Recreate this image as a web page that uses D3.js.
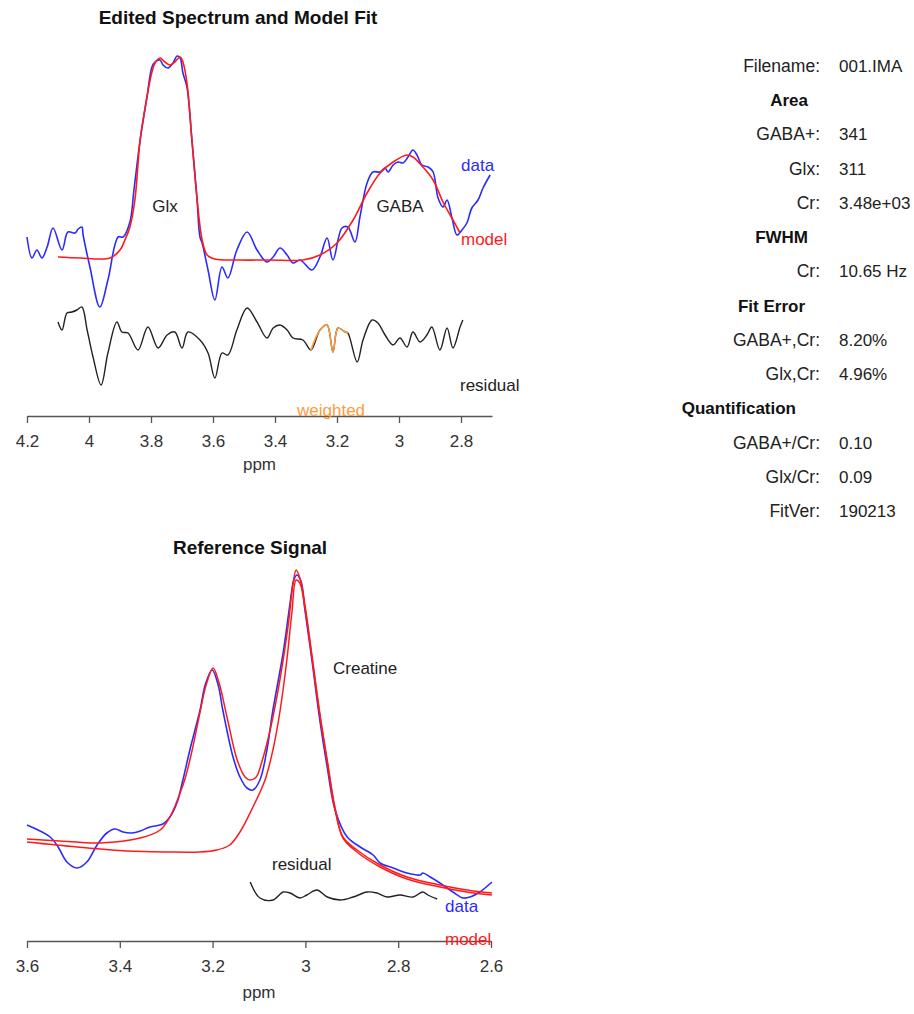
<!DOCTYPE html>
<html>
<head>
<meta charset="utf-8">
<script src="https://cdn.jsdelivr.net/npm/d3@7"></script>
<style>
    body { margin: 0; background: #fff; }
    svg { display: block; font-family: "Liberation Sans", Arial, sans-serif; }
    .axis path, .axis line { stroke: #555; stroke-width: 1.3; }
    .axis text { fill: #333; font-size: 17px; font-family: "Liberation Sans", Arial, sans-serif; }
</style>
</head>
<body>
<svg id="chart" width="914" height="1014"></svg>
<script>
// Donnees : spectre edite (ppm, amplitude)
const editedTicks = [4.2, 4, 3.8, 3.6, 3.4, 3.2, 3, 2.8];

const editedData = [
    [4.200, 2.1], [4.184, 0.0], [4.168, 0.8], [4.152, 0.0], [4.135, 1.1], [4.116, 3.0],
    [4.087, 0.8], [4.068, 2.6], [4.045, 2.5], [4.035, 2.9], [4.023, 3.1], [4.019, 2.3],
    [3.997, -0.9], [3.965, -4.9], [3.939, -2.2], [3.906, 2.1], [3.890, 2.1], [3.868, 3.6],
    [3.855, 6.8], [3.835, 11.8], [3.813, 16.1], [3.797, 19.1], [3.787, 19.6], [3.771, 19.8],
    [3.761, 19.3], [3.745, 19.0], [3.729, 19.5], [3.716, 20.2], [3.706, 20.0], [3.697, 18.5],
    [3.684, 17.1], [3.668, 11.8], [3.652, 6.1], [3.642, 2.1], [3.635, 1.5], [3.616, -1.2],
    [3.594, -4.2], [3.571, -0.9], [3.552, -2.0], [3.523, 0.8], [3.490, 2.6], [3.458, 0.8],
    [3.426, -0.4], [3.406, 0.1], [3.384, 1.0], [3.361, 0.3], [3.342, -0.5], [3.319, -0.2],
    [3.281, -1.2], [3.255, 0.1], [3.232, 2.0], [3.213, -0.2], [3.184, 3.0], [3.165, 3.1],
    [3.142, 1.6], [3.126, 4.1], [3.103, 7.5], [3.084, 8.6], [3.061, 8.6], [3.045, 9.0],
    [3.035, 8.6], [3.019, 9.3], [3.003, 9.6], [2.987, 9.5], [2.971, 10.1], [2.955, 10.8],
    [2.942, 10.3], [2.926, 9.3], [2.906, 9.1], [2.890, 8.6], [2.874, 6.0], [2.858, 5.1],
    [2.845, 5.8], [2.829, 4.0], [2.813, 2.3], [2.797, 2.8], [2.781, 3.5], [2.765, 5.0],
    [2.745, 5.8], [2.729, 7.0], [2.706, 8.3]
];

const editedModel = [
    [4.100, 0.1], [4.029, 0.0], [3.932, 0.0], [3.900, 0.8], [3.884, 1.8], [3.868, 3.1],
    [3.852, 5.8], [3.835, 11.8], [3.813, 16.1], [3.797, 18.6], [3.787, 19.5], [3.771, 20.0],
    [3.755, 19.6], [3.739, 19.3], [3.723, 19.6], [3.706, 20.1], [3.697, 19.6], [3.684, 17.5],
    [3.668, 11.8], [3.652, 6.1], [3.635, 1.8], [3.619, 0.3], [3.594, -0.1], [3.513, -0.2],
    [3.416, -0.2], [3.310, -0.2], [3.255, 0.3], [3.200, 1.5], [3.148, 3.8], [3.103, 6.5],
    [3.061, 8.5], [3.019, 9.6], [2.974, 10.3], [2.955, 10.1], [2.923, 9.1], [2.890, 7.8],
    [2.858, 5.6], [2.826, 3.8], [2.803, 2.5]
];

const editedResidual = [
    [4.100, -6.4], [4.087, -7.2], [4.071, -5.5], [4.055, -5.4], [4.039, -5.2], [4.023, -4.9],
    [4.006, -7.2], [3.987, -9.9], [3.961, -12.7], [3.939, -9.5], [3.910, -6.4], [3.894, -7.4],
    [3.874, -7.5], [3.842, -9.2], [3.810, -6.9], [3.777, -9.0], [3.748, -7.7], [3.723, -7.4],
    [3.700, -9.0], [3.681, -7.4], [3.642, -8.2], [3.616, -9.5], [3.594, -12.0], [3.571, -9.5],
    [3.552, -9.7], [3.523, -7.2], [3.490, -5.0], [3.458, -6.4], [3.426, -8.0], [3.406, -7.0],
    [3.384, -6.7], [3.361, -7.2], [3.342, -8.0], [3.310, -8.2], [3.284, -9.2], [3.255, -7.2],
    [3.232, -6.7], [3.213, -9.4], [3.197, -7.0], [3.174, -7.4], [3.165, -7.5], [3.135, -10.4],
    [3.116, -8.2], [3.087, -6.2], [3.068, -6.5], [3.045, -7.7], [3.019, -8.7], [2.997, -8.0],
    [2.974, -8.9], [2.955, -7.4], [2.932, -8.4], [2.910, -7.7], [2.894, -6.9], [2.868, -9.2],
    [2.845, -7.0], [2.826, -9.0], [2.803, -6.9], [2.794, -6.2]
];

// plage ponderee du residu
const weightedRange = [3.285, 3.16];

// Donnees : signal de reference
const refTicks = [3.6, 3.4, 3.2, 3, 2.8, 2.6];

const refData = [
    [3.600, 3.0], [3.550, 1.8], [3.533, 0.8], [3.514, -0.7], [3.492, -1.3], [3.471, -0.7],
    [3.449, 1.0], [3.428, 2.2], [3.410, 2.6], [3.393, 2.3], [3.374, 2.2], [3.356, 2.4],
    [3.335, 2.8], [3.307, 3.1], [3.292, 3.8], [3.277, 5.2], [3.264, 7.5], [3.249, 10.5],
    [3.227, 14.5], [3.216, 17.0], [3.201, 18.5], [3.188, 17.0], [3.178, 14.5], [3.156, 9.8],
    [3.141, 7.8], [3.126, 6.7], [3.113, 6.5], [3.098, 7.5], [3.083, 10.5], [3.070, 14.5],
    [3.048, 20.2], [3.033, 25.2], [3.025, 27.5], [3.018, 28.0], [3.009, 27.3], [3.001, 24.5],
    [2.986, 19.5], [2.969, 13.5], [2.953, 8.8], [2.936, 4.5], [2.910, 1.8], [2.882, 0.8],
    [2.854, 0.0], [2.839, -0.8], [2.811, -1.3], [2.781, -1.8], [2.753, -2.0], [2.747, -1.8],
    [2.731, -2.2], [2.710, -2.8], [2.682, -3.7], [2.660, -4.3], [2.645, -4.2], [2.624, -3.7],
    [2.598, -2.7]
];

const refModel = [
    [3.600, 1.6], [3.529, 1.4], [3.443, 1.2], [3.356, 1.7], [3.313, 2.5], [3.292, 3.8],
    [3.270, 6.2], [3.259, 7.7], [3.244, 10.5], [3.227, 14.3], [3.214, 17.0], [3.199, 18.7],
    [3.186, 17.2], [3.169, 13.8], [3.147, 9.5], [3.130, 7.8], [3.119, 7.5], [3.106, 7.8],
    [3.094, 9.3], [3.076, 12.5], [3.055, 17.5], [3.037, 23.0], [3.027, 27.0], [3.020, 28.5],
    [3.012, 27.7], [3.001, 25.0], [2.986, 20.0], [2.969, 14.2], [2.953, 9.5], [2.936, 4.7],
    [2.919, 1.8], [2.889, 0.5], [2.839, -1.0], [2.781, -2.2], [2.710, -3.0], [2.652, -3.5],
    [2.598, -3.8]
];

const refCreatineModel = [
    [3.600, 1.3], [3.492, 0.8], [3.384, 0.4], [3.298, 0.3], [3.227, 0.3], [3.191, 0.5],
    [3.163, 1.0], [3.141, 2.3], [3.113, 4.8], [3.087, 7.5], [3.070, 10.5], [3.055, 14.3],
    [3.040, 19.5], [3.029, 24.3], [3.020, 27.5], [3.012, 27.2], [3.001, 24.7], [2.986, 19.8],
    [2.969, 14.0], [2.953, 9.3], [2.936, 4.5], [2.919, 1.7], [2.889, 0.3], [2.839, -1.2],
    [2.781, -2.4], [2.710, -3.2], [2.652, -3.7], [2.598, -4.0]
];

const refResidual = [
    [3.119, -2.7], [3.098, -4.3], [3.070, -4.5], [3.048, -3.7], [3.033, -3.8], [3.012, -4.3],
    [2.997, -4.0], [2.975, -3.5], [2.953, -4.2], [2.925, -4.5], [2.897, -4.2], [2.867, -3.7],
    [2.846, -3.8], [2.824, -4.2], [2.796, -4.0], [2.768, -4.2], [2.747, -3.7], [2.736, -4.0],
    [2.716, -4.4]
];

// Tableau des resultats
const infoLabels = ["Filename:", "Area", "GABA+:", "Glx:", "Cr:", "FWHM", "Cr:", "Fit Error",
    "GABA+,Cr:", "Glx,Cr:", "Quantification", "GABA+/Cr:", "Glx/Cr:", "FitVer:"];
const infoValues = ["001.IMA", "", "341", "311", "3.48e+03", "", "10.65 Hz", "",
    "8.20%", "4.96%", "", "0.10", "0.09", "190213"];
const infoHeadings = ["Area", "FWHM", "Fit Error", "Quantification"];

const svg = d3.select("#chart");

const colors = {
    data: "#2b2bff",
    model: "#ff1a1a",
    residual: "#222",
    weighted: "#ff9a40",
    text: "#222"
};

// Echelles
const editedX = d3.scaleLinear().domain([4.2, 2.7]).range([27, 492]);
const editedY = d3.scaleLinear().domain([-15.8, 20.2]).range([416, 56]);
const refX = d3.scaleLinear().domain([3.6, 2.6]).range([27, 491]);
const refY = d3.scaleLinear().domain([-8.6, 28.5]).range([941, 570]);

function makeLine(xScale, yScale) {
    return d3.line()
        .x(function(d) { return xScale(d[0]); })
        .y(function(d) { return yScale(d[1]); })
        .curve(d3.curveCatmullRom.alpha(0.5));
}

function drawSeries(points, xScale, yScale, color, width) {
    svg.append("path")
        .datum(points)
        .attr("fill", "none")
        .attr("stroke", color)
        .attr("stroke-width", width)
        .attr("stroke-linejoin", "round")
        .attr("d", makeLine(xScale, yScale));
}

function addLabel(x, y, text, color, options) {
    const opts = options || {};
    svg.append("text")
        .attr("x", x)
        .attr("y", y)
        .attr("text-anchor", opts.anchor || "start")
        .attr("font-size", opts.size || 17)
        .attr("font-weight", opts.bold ? "bold" : "normal")
        .attr("fill", color)
        .text(text);
}

function drawAxis(xScale, ticks, yPos, labelY) {
    svg.append("g")
        .attr("class", "axis")
        .attr("transform", "translate(0," + yPos + ")")
        .call(d3.axisBottom(xScale)
            .tickValues(ticks)
            .tickSize(7)
            .tickSizeOuter(0)
            .tickPadding(12)
            .tickFormat(d3.format("")));

    const range = xScale.range();
    addLabel((range[0] + range[1]) / 2, labelY, "ppm", "#333", { anchor: "middle" });
}

// Spectre edite
function drawEditedPanel() {
    addLabel(238, 24, "Edited Spectrum and Model Fit", "#111", { anchor: "middle", bold: true, size: 19 });

    drawAxis(editedX, editedTicks, 416, 470);

    drawSeries(editedResidual, editedX, editedY, colors.residual, 1.4);
    const weighted = editedResidual.filter(function(d) {
        return d[0] <= weightedRange[0] && d[0] >= weightedRange[1];
    });
    drawSeries(weighted, editedX, editedY, colors.weighted, 1.6);

    drawSeries(editedData, editedX, editedY, colors.data, 1.6);
    drawSeries(editedModel, editedX, editedY, colors.model, 1.6);

    addLabel(165, 212, "Glx", colors.text, { anchor: "middle" });
    addLabel(400, 212, "GABA", colors.text, { anchor: "middle" });
    addLabel(461, 171, "data", colors.data);
    addLabel(461, 245, "model", colors.model);
    addLabel(460, 391, "residual", colors.text);
    addLabel(297, 416, "weighted", colors.weighted);
}

// Signal de reference
function drawReferencePanel() {
    addLabel(250, 554, "Reference Signal", "#111", { anchor: "middle", bold: true, size: 19 });

    drawAxis(refX, refTicks, 941, 998);

    drawSeries(refResidual, refX, refY, colors.residual, 1.4);
    drawSeries(refData, refX, refY, colors.data, 1.6);
    drawSeries(refCreatineModel, refX, refY, colors.model, 1.5);
    drawSeries(refModel, refX, refY, colors.model, 1.5);

    addLabel(333, 674, "Creatine", colors.text);
    addLabel(272, 870, "residual", colors.text);
    addLabel(445, 912, "data", colors.data);
    addLabel(445, 945, "model", colors.model);
}

// Tableau a droite
function drawInfoPanel() {
    const rowY = d3.scaleLinear().domain([0, infoLabels.length - 1]).range([72, 517]);
    const headingEnd = { "Area": 808, "FWHM": 808, "Fit Error": 805, "Quantification": 796 };

    infoLabels.forEach(function(label, index) {
        if (infoHeadings.indexOf(label) >= 0) {
            addLabel(headingEnd[label], rowY(index), label, "#111", { anchor: "end", bold: true });
            return;
        }
        addLabel(820, rowY(index), label, colors.text, { anchor: "end", size: 17.5 });
        addLabel(839, rowY(index), infoValues[index], colors.text);
    });
}

drawEditedPanel();
drawReferencePanel();
drawInfoPanel();
</script>
</body>
</html>
